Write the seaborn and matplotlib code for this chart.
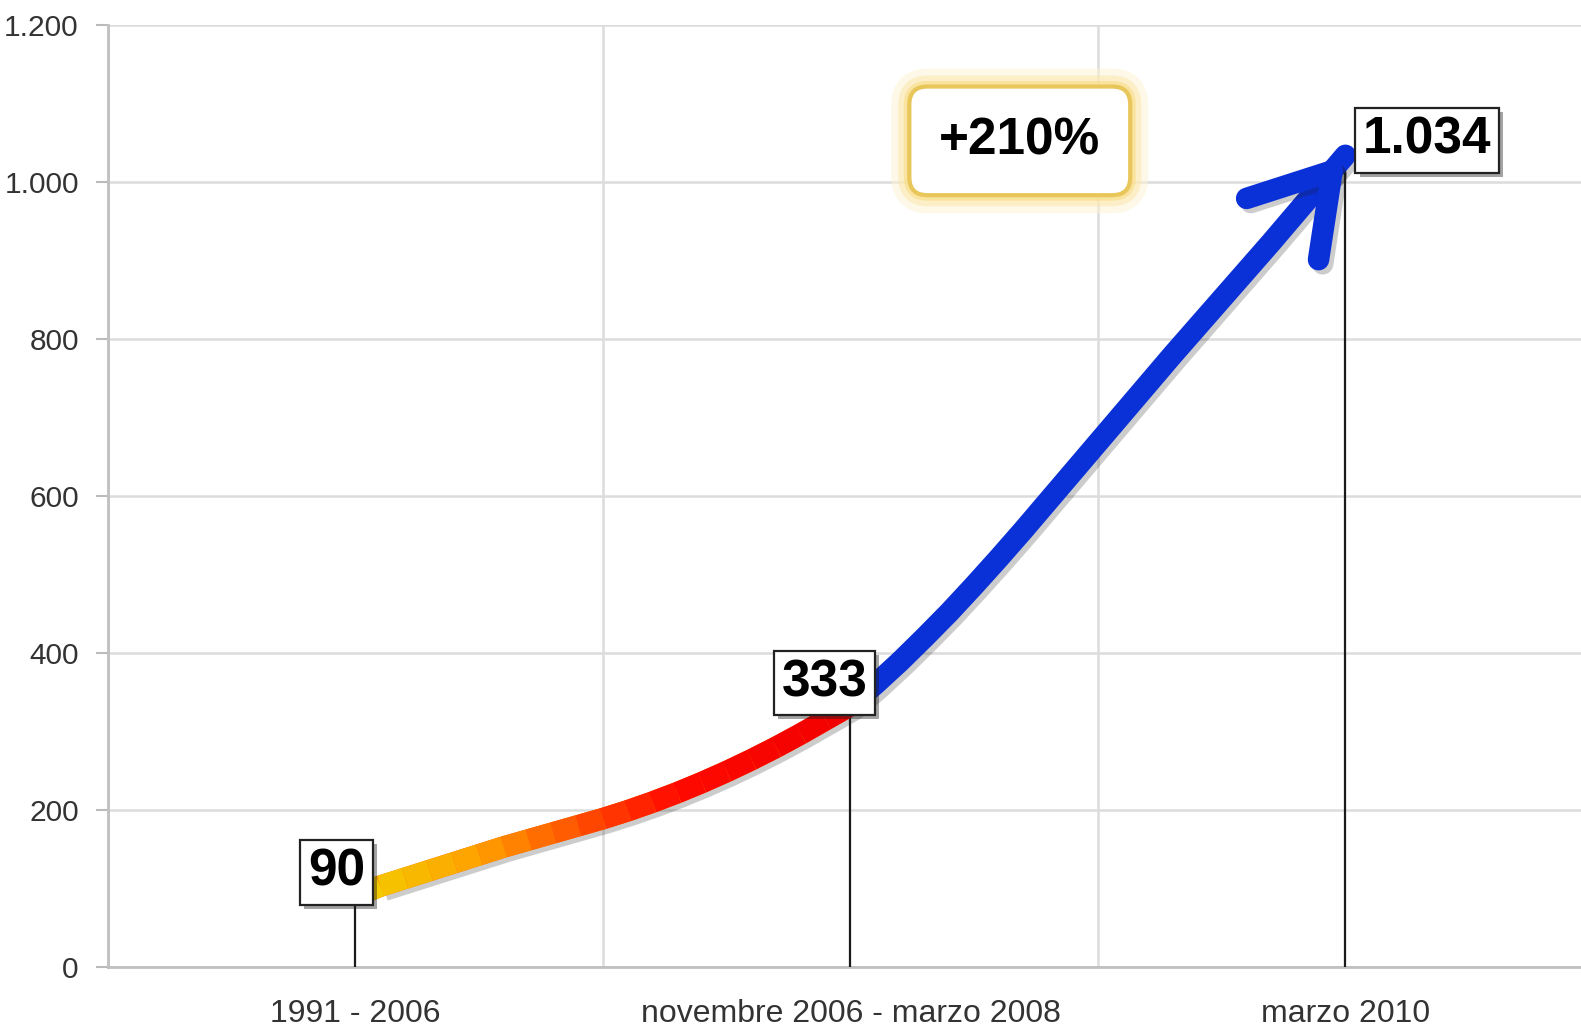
import numpy as np
import matplotlib
matplotlib.use("Agg")
import matplotlib.pyplot as plt
import matplotlib.patheffects as pe
from matplotlib.collections import LineCollection
from matplotlib.colors import LinearSegmentedColormap
from matplotlib.ticker import FixedLocator, FuncFormatter
import seaborn as sns

# chart values
categories = ["1991 - 2006", "novembre 2006 - marzo 2008", "marzo 2010"]
values = [90, 333, 1034]
growth_label = "+210%"

# curve traced through the three values
curve_lo_x = [0.50, 0.55, 0.60, 0.65, 0.70, 0.75, 0.80, 0.85, 0.90, 0.95, 1.00,
              1.05, 1.10, 1.15, 1.20, 1.25, 1.30, 1.35, 1.40, 1.45, 1.50]
curve_lo_y = [90, 103, 113, 123, 133, 143, 153, 162, 171, 180, 189,
              199, 210, 222, 235, 249, 264, 280, 297, 315, 333]
curve_hi_x = [1.50, 1.55, 1.60, 1.65, 1.70, 1.75, 1.80, 1.85, 1.90, 1.95, 2.00,
              2.05, 2.10, 2.15, 2.20, 2.25, 2.30, 2.35, 2.40, 2.45, 2.50]
curve_hi_y = [333, 360, 389, 420, 452, 486, 521, 557, 594, 631, 668,
              705, 742, 779, 815, 851, 887, 923, 960, 997, 1034]

y_ticks = [0, 200, 400, 600, 800, 1000, 1200]

BLUE = "#0a30d8"
warm = LinearSegmentedColormap.from_list(
    "warm", [(0, "#f2d000"), (0.25, "#ffa000"), (0.5, "#ff3c00"),
             (0.65, "#ff0a00"), (1, "#f00000")])

sns.set_theme(style="whitegrid")
plt.rcParams["font.family"] = ["Liberation Sans", "DejaVu Sans"]


def it_fmt(v, _=None):
    return f"{v:,.0f}".replace(",", ".")


W, H = 1581, 1026
fig = plt.figure(figsize=(W / 100, H / 100), dpi=100)
ax = fig.add_axes([108 / W, 1 - 967 / H, 1 - 108 / W, (967 - 25) / H])

centers = np.arange(len(categories)) + 0.5
ax.set_xlim(0, 2.976)
ax.set_ylim(0, 1200)

# grid / axes styling
ax.set_yticks(y_ticks)
ax.yaxis.set_major_formatter(FuncFormatter(it_fmt))
ax.set_xticks(centers)
ax.set_xticklabels(categories)
ax.xaxis.set_minor_locator(FixedLocator(np.arange(len(categories) + 1)))
ax.grid(False, axis="x", which="major")
ax.grid(True, axis="x", which="minor", color="#dcdcdc", lw=1.8)
ax.grid(True, axis="y", which="major", color="#dcdcdc", lw=1.8)
ax.tick_params(axis="x", which="major", length=0, pad=23, labelsize=23, labelcolor="#333333")
ax.tick_params(axis="x", which="minor", length=10, width=1.5, color="#bbbbbb")
ax.tick_params(axis="y", length=9, width=1.5, color="#bbbbbb", pad=12,
               labelsize=21.5, labelcolor="#333333", left=True)
for s in ["top", "right"]:
    ax.spines[s].set_visible(False)
for s in ["left", "bottom"]:
    ax.spines[s].set_color("#c0c0c0")
    ax.spines[s].set_linewidth(2)
ax.set_axisbelow(True)

LW = 15.5

# drop lines from each value
ax.vlines(centers, 0, values, color="#1a1a1a", lw=1.6, zorder=3)

# soft shadow under the whole curve
all_x = curve_lo_x[1:] + curve_hi_x[1:]
all_y = curve_lo_y[1:] + curve_hi_y[1:]
ax.plot(all_x, all_y, color="k", lw=LW, solid_capstyle="butt", zorder=4,
        path_effects=[pe.SimpleLineShadow(offset=(3, -3), shadow_color="k", alpha=0.22)])

# warm gradient segment (solid underlay hides seams between coloured pieces)
ax.plot(curve_lo_x, curve_lo_y, color="#ff6a00", lw=LW, solid_capstyle="butt",
        solid_joinstyle="round", zorder=4.5)
pts = np.column_stack([curve_lo_x, curve_lo_y]).reshape(-1, 1, 2)
segs = np.concatenate([pts[:-1], pts[1:]], axis=1)
lc = LineCollection(segs, cmap=warm, norm=plt.Normalize(0.5, 1.5),
                    linewidths=LW, capstyle="butt", zorder=5)
lc.set_array(np.array([(a + b) / 2 for a, b in zip(curve_lo_x[:-1], curve_lo_x[1:])]))
ax.add_collection(lc)

# blue segment ending in an arrow
sns.lineplot(x=curve_hi_x, y=curve_hi_y, ax=ax, color=BLUE, lw=LW, sort=False,
             solid_capstyle="round", solid_joinstyle="round", zorder=5)
ax.annotate("", xy=(curve_hi_x[-1], curve_hi_y[-1]),
            xytext=(curve_hi_x[-2], curve_hi_y[-2]),
            arrowprops=dict(arrowstyle="->,head_length=2.75,head_width=1.7",
                            mutation_scale=20, lw=LW, color=BLUE,
                            shrinkA=0, shrinkB=0, capstyle="round", joinstyle="round",
                            path_effects=[pe.SimpleLineShadow(offset=(3, -3), shadow_color="k", alpha=0.22),
                                          pe.Normal()]),
            zorder=6)

# value boxes
offsets = [(-13.7, 17.3), (-18.7, 16.2), (59, 10.8)]
for x, v, off in zip(centers, values, offsets):
    t = ax.annotate(it_fmt(v), xy=(x, v), xytext=off, textcoords="offset points",
                    ha="center", va="center", fontsize=37, fontweight="bold", color="black",
                    bbox=dict(boxstyle="square,pad=0.15", fc="white", ec="#222222", lw=1.6),
                    zorder=8)
    t.get_bbox_patch().set_path_effects(
        [pe.SimplePatchShadow(offset=(3, -3), shadow_rgbFace="k", alpha=0.4), pe.Normal()])

# growth badge
g = ax.text(0.619, 0.877, growth_label, transform=ax.transAxes, ha="center", va="center",
            fontsize=37, fontweight="bold", color="black", zorder=8,
            bbox=dict(boxstyle="round,pad=0.58,rounding_size=0.35", fc="white",
                      ec="#e8c65a", lw=3))
g.get_bbox_patch().set_path_effects(
    [pe.Stroke(linewidth=26, foreground="#fdf3d2", alpha=0.5),
     pe.Stroke(linewidth=16, foreground="#fce8a8", alpha=0.5),
     pe.Stroke(linewidth=8, foreground="#f8d977", alpha=0.5),
     pe.Normal()])

fig.savefig("out.png", dpi=100)
